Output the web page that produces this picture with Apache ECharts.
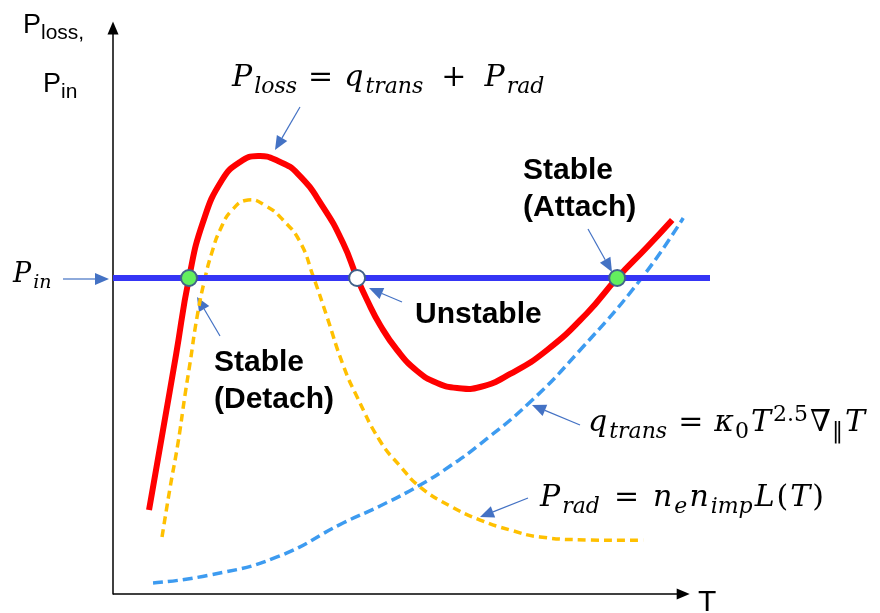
<!DOCTYPE html>
<html>
<head>
  <meta charset="utf-8">
  <title>Ploss vs T</title>
  <script src="https://cdn.jsdelivr.net/npm/echarts@6.0.0/dist/echarts.min.js"></script>
  <style>
    html, body { margin: 0; padding: 0; background: #fff; }
    #main { width: 880px; height: 613px; }
  </style>
</head>
<body>
  <div id="main"></div>
  <script>
    // 曲线数据 [T, P]（示意图，任意单位）
    const lossCurve = [
      [6.32, 14.84], [8.77, 28.98], [11.05, 42.23], [13.33, 55.83], [15.79, 65.72],
      [19.12, 73.14], [22.28, 76.33], [25.44, 77.39], [28.95, 76.5], [32.46, 74.2],
      [36.84, 68.37], [40.35, 62.01], [42.81, 55.83], [44.56, 51.94], [46.84, 47.53],
      [49.82, 43.11], [53.33, 39.4], [56.84, 37.28], [60.35, 36.4], [64.39, 36.57],
      [69.65, 38.87], [76.14, 43.11], [83.16, 49.65], [88.42, 55.83], [93.68, 61.31],
      [98.07, 66.08]
    ];
    const radCurve = [
      [8.6, 10.07], [10.0, 18.73], [11.4, 26.68], [12.63, 35.16], [13.51, 40.81],
      [14.74, 48.94], [16.14, 55.83], [17.37, 60.42], [18.77, 64.31], [20.88, 67.84],
      [23.68, 69.61], [26.84, 68.55], [29.82, 66.08], [32.81, 62.19], [35.09, 56.18],
      [37.54, 48.94], [40.35, 40.46], [42.81, 34.81], [46.84, 27.03], [50.35, 22.61],
      [53.86, 18.9], [59.12, 15.55], [64.39, 13.07], [69.65, 11.31], [74.91, 10.07],
      [83.68, 9.54], [92.98, 9.54]
    ];
    const transCurve = [
      [7.02, 1.94], [17.02, 3.36], [28.77, 6.54], [40.35, 12.54], [46.84, 15.55],
      [53.86, 19.26], [59.12, 22.61], [64.39, 26.5], [73.16, 33.92], [81.93, 43.11],
      [92.46, 55.48], [100.0, 66.43]
    ];
    const pinLevel = [[0, 55.83], [104.7, 55.83]];
    const crossT = [13.33, 42.81, 88.42];
    const crossStable = [true, false, true];
    const tAxisEnd = 100;

    const MATH = "'DejaVu Serif', 'Liberation Serif', serif";
    const SANS = "'Liberation Sans', Arial, sans-serif";

    function mathRich(size, gap, plusGap) {
      const sub = Math.round(size * 0.72);
      return {
        v: { fontFamily: MATH, fontStyle: 'italic', fontSize: size, fill: '#000', padding: [0, 1] },
        o: { fontFamily: MATH, fontSize: size, fill: '#000', padding: [0, gap] },
        w: { fontFamily: MATH, fontSize: size, fill: '#000', padding: [0, plusGap || gap] },
        u: { fontFamily: MATH, fontSize: size, fill: '#000', padding: [0, 1] },
        s: { fontFamily: MATH, fontStyle: 'italic', fontSize: sub, fill: '#000', padding: [Math.round(size * 0.6), 1, 0, 1] },
        sn: { fontFamily: MATH, fontSize: sub, fill: '#000', padding: [Math.round(size * 0.6), 1, 0, 0] },
        sup: { fontFamily: MATH, fontSize: sub, fill: '#000', padding: [0, 1, Math.round(size * 0.5), 1] }
      };
    }
    const sansRich = {
      p: { fontFamily: SANS, fontSize: 27, fill: '#000' },
      s: { fontFamily: SANS, fontSize: 21, fill: '#000', padding: [15, 0, 0, 0] }
    };

    // 注释箭头
    const ARROW_COLOR = '#4472c4';
    function arrow(x1, y1, x2, y2) {
      const a = Math.atan2(y2 - y1, x2 - x1);
      const L = 14, W = 6;
      const bx = x2 - L * Math.cos(a), by = y2 - L * Math.sin(a);
      return [
        { type: 'line', shape: { x1: x1, y1: y1, x2: bx, y2: by }, style: { stroke: ARROW_COLOR, lineWidth: 1.2 } },
        { type: 'polygon', shape: { points: [[x2, y2], [bx - W * Math.sin(a), by + W * Math.cos(a)], [bx + W * Math.sin(a), by - W * Math.cos(a)]] }, style: { fill: ARROW_COLOR } }
      ];
    }
    function text(x, y, str, rich) {
      return {
        type: 'text', x: x, y: y, z: 10,
        style: { text: str, rich: rich, align: 'left', verticalAlign: 'middle', fill: '#000' }
      };
    }
    const BOLD = "bold 30px 'Liberation Sans', Arial, sans-serif";

    const graphics = [].concat(
      arrow(300, 107, 275, 150),
      arrow(63, 279, 109, 279),
      arrow(220, 336, 197, 297),
      arrow(402, 302, 369, 288),
      arrow(588, 229, 612, 272),
      arrow(580, 425, 532, 405),
      arrow(528, 498, 480, 517),
      [
        text(23, 26, '{p|P}{s|loss,}', sansRich),
        text(43, 85, '{p|P}{s|in}', sansRich),
        text(231, 78, '{v|P}{s|loss}{o|=}{v|q}{s|trans}{w|+}{v|P}{s|rad}', mathRich(30, 10, 17)),
        text(12, 275, '{v|P}{s|in}', mathRich(27, 0)),
        text(587, 423, '{v|q}{s|trans}{o|=}{v|κ}{sn|0}{v|T}{sup|2.5}{v|∇}{sn|‖}{v|T}', mathRich(30, 10)),
        text(539, 498, '{v|P}{s|rad}{o|=}{v|n}{s|e}{v|n}{s|imp}{v|L}{u|(}{v|T}{u|)}', mathRich(30, 13)),
        { type: 'text', x: 523, y: 152, z: 10, style: { text: 'Stable\n(Attach)', font: BOLD, lineHeight: 37, fill: '#000', verticalAlign: 'top' } },
        { type: 'text', x: 214, y: 344, z: 10, style: { text: 'Stable\n(Detach)', font: BOLD, lineHeight: 37, fill: '#000', verticalAlign: 'top' } },
        { type: 'text', x: 415, y: 315, z: 10, style: { text: 'Unstable', font: BOLD, fill: '#000', verticalAlign: 'middle' } },
        { type: 'text', x: 698, y: 603, z: 10, style: { text: 'T', font: "30px 'Liberation Sans', Arial, sans-serif", fill: '#000', verticalAlign: 'middle' } }
      ]
    );

    // 平滑曲线：用坐标轴把数据点换成像素，再画一条平滑折线
    function curveSeries(points, style, z) {
      return {
        type: 'custom', z: z, silent: true, clip: false,
        data: points,
        renderItem: function (params, api) {
          if (params.dataIndex !== 0) return null;
          return {
            type: 'polyline',
            shape: { points: points.map(p => api.coord(p)), smooth: 0.5, smoothConstraint: false },
            style: Object.assign({ fill: null, lineCap: 'butt' }, style)
          };
        }
      };
    }

    const chart = echarts.init(document.getElementById('main'));

    const option = {
      animation: false,
      backgroundColor: '#fff',
      grid: { left: 113, top: 28, right: 170, bottom: 19, outerBoundsMode: 'none', containLabel: false },
      xAxis: {
        type: 'value', min: 0, max: 104.7,
        axisLine: { show: false }, axisTick: { show: false }, axisLabel: { show: false }, splitLine: { show: false }
      },
      yAxis: {
        type: 'value', min: 0, max: 100,
        axisLine: { show: true, symbol: ['none', 'triangle'], symbolSize: [11, 13], lineStyle: { color: '#000', width: 1.5 } },
        axisTick: { show: false }, axisLabel: { show: false }, splitLine: { show: false }
      },
      graphic: graphics,
      series: [
        {
          // 横轴（带箭头）
          type: 'line', data: [], silent: true, z: 1,
          markLine: {
            silent: true, animation: false,
            symbol: ['none', 'triangle'], symbolSize: [11, 13],
            label: { show: false },
            lineStyle: { color: '#000', width: 1.5, type: 'solid' },
            data: [[{ coord: [0, 0] }, { coord: [tAxisEnd, 0] }]]
          }
        },
        curveSeries(radCurve, { stroke: '#ffc000', lineWidth: 3.5, lineDash: [8, 5] }, 2),
        curveSeries(transCurve, { stroke: '#3d9bf0', lineWidth: 3.5, lineDash: [10, 5] }, 3),
        curveSeries(lossCurve, { stroke: '#ff0000', lineWidth: 6 }, 4),
        {
          type: 'line', data: pinLevel, symbol: 'none', z: 5,
          lineStyle: { color: '#3535f5', width: 6 }
        },
        {
          type: 'scatter', z: 6, symbolSize: 16,
          data: crossT.map((t, i) => ({
            value: [t, pinLevel[0][1]],
            itemStyle: { color: crossStable[i] ? '#63ee5e' : '#ffffff', borderColor: '#41618a', borderWidth: 2, opacity: 1 }
          }))
        }
      ]
    };

    chart.setOption(option);
  </script>
</body>
</html>
